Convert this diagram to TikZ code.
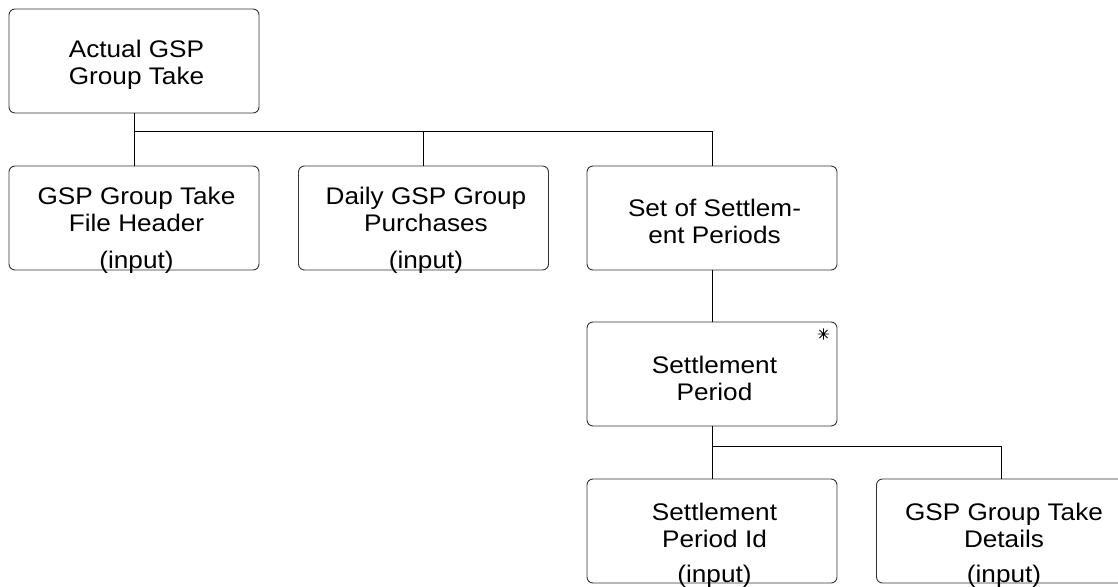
\documentclass[tikz,border=0pt]{standalone}
\usepackage{fontspec}
\setmainfont{Liberation Sans}[FakeStretch=1.09]
\newcommand\dfont{\fontsize{24}{27}\selectfont}
\tikzset{
  ent/.style={draw=black!80, line width=0.9pt, rounded corners=6pt,
    minimum width=250pt, minimum height=104pt, inner sep=0pt},
  txt/.style={align=center, font=\dfont, inner sep=0pt},
  inp/.style={font=\dfont, inner sep=0pt, anchor=base},
  link/.style={draw=black, line width=0.8pt},
}
\begin{document}
\begin{tikzpicture}[x=1pt,y=-1pt]
\clip (0,0) rectangle (1118,586);
\useasboundingbox (0,0) rectangle (1118,586);
% boxes
\node[ent] (top) at (134,61) {};
\node[ent] (hdr) at (134,218) {};
\node[ent] (pur) at (423.5,218) {};
\node[ent] (set) at (712,218) {};
\node[ent] (sp)  at (712,374) {};
\node[ent] (spi) at (712,531) {};
\node[ent] (gtd) at (1001.5,531) {};
% texts
\node[txt] (topT) at (136.5,65) {Actual GSP\\Group Take};
\node[txt] (hdrT) at (136.5,209.5) {GSP Group Take\\File Header};
\node[inp] (hdrI) at (136.5,268) {(input)};
\node[txt] (purT) at (426,209.5) {Daily GSP Group\\Purchases};
\node[inp] (purI) at (426,268) {(input)};
\node[txt] (setT) at (714.5,221.5) {Set of Settlem-\\ent Periods};
\node[txt] (spT)  at (714.5,378) {Settlement\\Period};
\node[txt] (spiT) at (714.5,525) {Settlement\\Period Id};
\node[inp] (spiI) at (714.5,582) {(input)};
\node[txt] (gtdT) at (1004,525) {GSP Group Take\\Details};
\node[inp] (gtdI) at (1004,582) {(input)};
% iteration asterisk
\node[circle, minimum size=11pt, inner sep=0pt] (ast) at (823.5,334) {};
\draw[line width=0.9pt] (ast.north) -- (ast.south) (ast.west) -- (ast.east)
  (ast.north west) -- (ast.south east) (ast.north east) -- (ast.south west);
% connectors
\coordinate (j1) at (134,131);
\coordinate (j2) at (712,446.5);
\draw[link] (top.south) -- (hdr.north);
\draw[link] (j1) -| (pur.north);
\draw[link] (j1) -| (set.north);
\draw[link] (set.south) -- (sp.north);
\draw[link] (sp.south) -- (spi.north);
\draw[link] (j2) -| (gtd.north);
\end{tikzpicture}
\end{document}
